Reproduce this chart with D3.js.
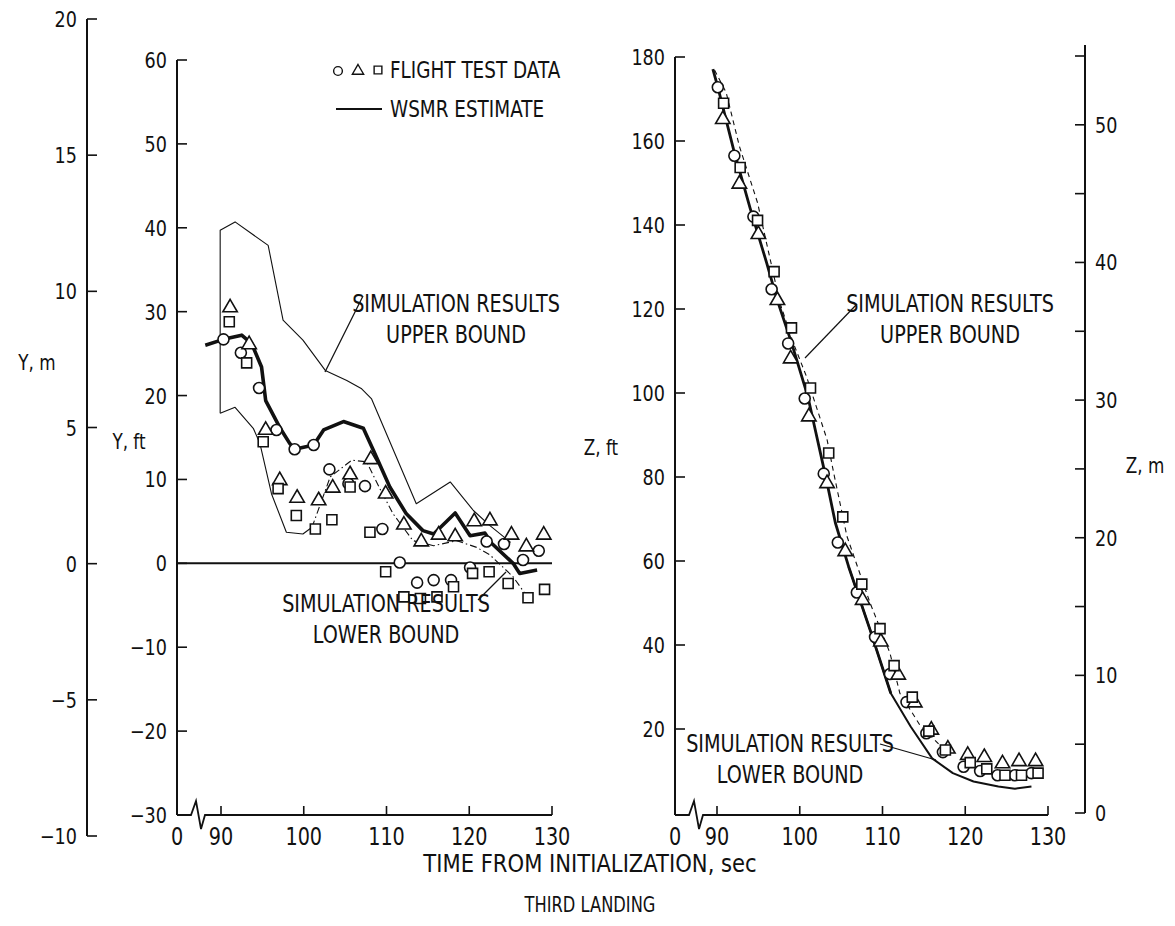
<!DOCTYPE html>
<html>
<head>
<meta charset="utf-8">
<script src="https://cdn.jsdelivr.net/npm/d3@7"></script>
<style>
  body { margin: 0; background: #fff; }
  svg text { font-family: "DejaVu Sans", "Roboto", sans-serif; fill: #111; }
</style>
</head>
<body>
<svg id="chart" width="1175" height="926"></svg>
<script>
// ---- data (time in sec, Y / Z in ft) ----
const wsmrLeft = [[88.1,26.0],[90.3,26.7],[92.5,27.2],[93.7,26.2],[94.9,23.4],[95.4,19.4],[97.1,16.2],[98.3,14.3],[98.9,13.6],[101.2,14.1],[102.4,15.9],[104.8,16.9],[107.2,16.1],[108.4,13.5],[110.4,9.1],[112.4,5.9],[114.4,3.9],[115.7,3.5],[118.3,6.0],[120.1,3.3],[121.9,3.6],[122.7,2.4],[125.3,0],[126.1,-1.2],[128.2,-0.8]];
const upperLeft = [[89.9,17.9],[89.9,39.7],[91.7,40.7],[95.7,37.9],[97.5,29.0],[99.9,26.6],[102.6,23.0],[105.2,21.8],[107.0,20.8],[108.2,19.6],[113.6,7.1],[117.7,9.7],[120.5,6.3],[122.5,4.5],[125.0,2.5]];
const lowerLeftSolid = [[89.9,17.9],[91.7,18.6],[93.9,16.1],[94.7,14.3],[96.1,8.3],[97.9,3.7],[99.9,3.5],[101.0,4.3]];
const lowerLeftDash = [[101.0,4.3],[103.2,10.3],[105.8,12.3],[107.6,12.1],[109.2,8.9],[110.8,5.9],[113.2,2.7],[115.7,2.1],[118.5,2.7],[120.9,1.9],[122.5,1.0],[125.3,-1.6],[127.3,-4.4]];
const circLeft = [[90.3,26.7],[92.4,25.1],[94.6,20.9],[96.7,15.9],[98.9,13.6],[101.2,14.1],[103.1,11.2],[105.4,9.5],[107.4,9.2],[109.5,4.1],[111.6,0.1],[113.7,-2.3],[115.7,-2.0],[117.8,-2.0],[120.1,-0.5],[122.1,2.6],[124.2,2.3],[126.5,0.4],[128.4,1.5]];
const triLeft = [[91.1,30.6],[93.4,26.2],[95.4,16.0],[97.1,10.0],[99.2,7.9],[101.8,7.6],[103.5,9.1],[105.6,10.7],[108.1,12.5],[109.9,8.4],[112.1,4.7],[114.2,2.7],[116.3,3.5],[118.3,3.3],[120.6,5.1],[122.5,5.2],[125.1,3.5],[126.9,2.1],[129.0,3.5]];
const sqLeft = [[91.0,28.8],[93.1,23.9],[95.1,14.5],[96.9,8.9],[99.1,5.7],[101.4,4.1],[103.4,5.2],[105.6,9.1],[108.0,3.7],[109.9,-1.0],[112.1,-4.0],[114.1,-4.2],[116.1,-4.0],[118.1,-2.8],[120.4,-1.2],[122.4,-1.0],[124.7,-2.4],[127.1,-4.1],[129.1,-3.1]];

const wsmrRight = [[89.5,177.1],[90.1,172.8],[92.0,158.0],[94.0,144.0],[96.0,131.0],[97.3,122.0],[99.0,112.0],[101.0,99.0],[103.3,78.6],[104.3,69.1],[105.9,58.7],[108.5,43.6],[111.0,28.5]];
const lowerRight = [[105.9,58.7],[108.5,43.6],[111.0,28.5],[113.4,20.6],[116.0,13.0],[118.5,9.5],[121.0,7.5],[124.0,6.3],[126.0,5.8],[128.0,6.3]];
const upperRight = [[89.7,176.9],[91.1,171.6],[92.7,158.8],[94.9,145.3],[97.6,121.5],[99.2,112.0],[100.8,104.0],[103.3,88.9],[104.1,81.0],[105.7,65.9],[108.5,50.0],[110.9,38.1],[112.1,28.5],[114.5,21.0],[117.0,16.0]];
const circRight = [[90.1,172.8],[92.1,156.5],[94.4,142.0],[96.6,124.7],[98.6,111.8],[100.6,98.7],[102.9,80.8],[104.6,64.4],[106.9,52.5],[109.1,41.9],[110.9,33.1],[112.9,26.4],[115.3,19.0],[117.3,14.5],[119.8,11.0],[121.8,10.0],[123.9,9.0],[126.0,9.0],[128.0,9.5]];
const triRight = [[90.7,165.4],[92.7,150.0],[95.0,138.0],[97.3,122.3],[98.9,108.4],[101.1,94.6],[103.3,78.7],[105.5,62.5],[107.6,50.9],[109.8,41.0],[111.9,33.1],[113.9,26.5],[115.9,20.0],[117.9,15.5],[120.3,14.0],[122.3,13.5],[124.5,12.0],[126.5,12.5],[128.5,12.5]];
const sqRight = [[90.8,169.0],[92.8,153.7],[94.9,141.1],[96.9,128.9],[99.0,115.5],[101.3,101.2],[103.5,85.7],[105.2,70.5],[107.5,54.5],[109.7,43.9],[111.4,35.1],[113.6,27.6],[115.6,19.5],[117.6,15.0],[120.6,12.0],[122.6,10.5],[124.8,9.0],[126.8,9.0],[128.8,9.5]];

const yFtTicks = [-30,-20,-10,0,10,20,30,40,50,60];
const yMTicks = [-10,-5,0,5,10,15,20];
const zFtTicks = [20,40,60,80,100,120,140,160,180];
const zMTicks = [0,5,10,15,20,25,30,35,40,45,50,55];
const zMLabels = [0,10,20,30,40,50];
const timeTicks = [90,100,110,120,130];

const svg = d3.select("#chart");

// scales
const xL = d3.scaleLinear().domain([90,130]).range([221,552]);
const yL = d3.scaleLinear().domain([-30,60]).range([815,60]);
const yLm = d3.scaleLinear().domain([-10,20]).range([836,19]);
const xR = d3.scaleLinear().domain([90,130]).range([717,1048]);
const yR = d3.scaleLinear().domain([0,180]).range([813,57]);
const yRm = d3.scaleLinear().domain([0,55]).range([813,56]);

const ink = "#111";
const SQ = 0.8; // horizontal squeeze, gives the narrow lettering look

// text drawn at (x,y) and squeezed horizontally
function label(parent, s, x, y, size, anchor, sx) {
  return parent.append("text")
    .attr("transform", `translate(${x},${y}) scale(${sx || SQ},1)`)
    .attr("text-anchor", anchor || "middle")
    .style("font-size", size + "px")
    .text(s);
}

// vertical axis helper: line + inward ticks + labels
function vAxis(scale, x, ticks, labels, side, top, bottom) {
  const g = svg.append("g");
  g.append("line").attr("x1", x).attr("x2", x).attr("y1", top).attr("y2", bottom)
    .attr("stroke", ink).attr("stroke-width", 2);
  const dir = side === "left" ? 1 : -1;
  g.selectAll(".tk").data(ticks).join("line")
    .attr("x1", x).attr("x2", x + dir * 10)
    .attr("y1", d => scale(d)).attr("y2", d => scale(d))
    .attr("stroke", ink).attr("stroke-width", 1.6);
  labels.forEach(d => {
    label(g, d < 0 ? "\u2212" + Math.abs(d) : String(d),
      side === "left" ? x - 10 : x + 10, scale(d) + 8, 22, side === "left" ? "end" : "start");
  });
}

// time axis with break
function tAxis(scale, x0, y) {
  const g = svg.append("g");
  const p = d3.path();
  p.moveTo(x0, y); p.lineTo(x0 + 14, y); p.lineTo(x0 + 19, y - 14);
  p.lineTo(x0 + 24, y + 14); p.lineTo(x0 + 28, y); p.lineTo(scale(130), y);
  g.append("path").attr("d", p.toString()).attr("fill", "none").attr("stroke", ink).attr("stroke-width", 1.8);
  g.selectAll("line").data(timeTicks).join("line")
    .attr("x1", d => scale(d)).attr("x2", d => scale(d)).attr("y1", y).attr("y2", y - 9)
    .attr("stroke", ink).attr("stroke-width", 1.6);
  [0].concat(timeTicks).forEach(d => {
    label(g, String(d), d === 0 ? x0 : scale(d), y + 30, 24);
  });
}

vAxis(yLm, 87, yMTicks, yMTicks, "left", 19, 836);
vAxis(yL, 177, yFtTicks, yFtTicks, "left", 60, 815);
tAxis(xL, 177, 815);
vAxis(yR, 675, zFtTicks, zFtTicks, "left", 57, 815);
vAxis(yRm, 1085, zMTicks, zMLabels, "right", 45, 813);
tAxis(xR, 675, 815);

// zero line in left panel
svg.append("line").attr("x1", 177).attr("x2", xL(130)).attr("y1", yL(0)).attr("y2", yL(0))
  .attr("stroke", ink).attr("stroke-width", 2);

function drawLine(data, xs, ys, width, dash) {
  svg.append("path").datum(data)
    .attr("d", d3.line().x(d => xs(d[0])).y(d => ys(d[1])))
    .attr("fill", "none").attr("stroke", ink).attr("stroke-width", width)
    .attr("stroke-dasharray", dash || null).attr("stroke-linejoin", "round");
}

drawLine(upperLeft, xL, yL, 1.1);
drawLine(lowerLeftSolid, xL, yL, 1.1);
drawLine(lowerLeftDash, xL, yL, 1.1, "7,3,1.5,3");
drawLine(wsmrLeft, xL, yL, 3.6);

drawLine(upperRight, xR, yR, 1.1, "5,4");
drawLine(lowerRight, xR, yR, 2);
drawLine(wsmrRight, xR, yR, 2.8);

// markers
function markers(data, xs, ys, type) {
  const sym = d3.symbol().type(type === "c" ? d3.symbolCircle : type === "t" ? d3.symbolTriangle : d3.symbolSquare)
    .size(type === "c" ? 95 : type === "t" ? 90 : 100);
  svg.append("g").selectAll("path").data(data).join("path")
    .attr("transform", d => `translate(${xs(d[0])},${ys(d[1]) + (type === "t" ? 1 : 0)})`)
    .attr("d", sym).attr("fill", "#fff").attr("stroke", ink).attr("stroke-width", 1.6);
}
markers(circLeft, xL, yL, "c");
markers(triLeft, xL, yL, "t");
markers(sqLeft, xL, yL, "s");
markers(circRight, xR, yR, "c");
markers(triRight, xR, yR, "t");
markers(sqRight, xR, yR, "s");

// legend
const leg = svg.append("g");
leg.append("path").attr("transform", "translate(338,71)").attr("d", d3.symbol().type(d3.symbolCircle).size(60))
  .attr("fill", "#fff").attr("stroke", ink).attr("stroke-width", 1.4);
leg.append("path").attr("transform", "translate(358,71)").attr("d", d3.symbol().type(d3.symbolTriangle).size(55))
  .attr("fill", "#fff").attr("stroke", ink).attr("stroke-width", 1.4);
leg.append("path").attr("transform", "translate(378,70)").attr("d", d3.symbol().type(d3.symbolSquare).size(60))
  .attr("fill", "#fff").attr("stroke", ink).attr("stroke-width", 1.4);
label(leg, "FLIGHT TEST DATA", 390, 78, 23, "start");
leg.append("line").attr("x1", 336).attr("x2", 382).attr("y1", 109).attr("y2", 109).attr("stroke", ink).attr("stroke-width", 2);
label(leg, "WSMR ESTIMATE", 390, 117, 23, "start");

// annotations
function note(lines, x, y) {
  lines.forEach((s, i) => label(svg, s, x, y + i * 31, 24));
}
function leader(x1, y1, x2, y2) {
  svg.append("line").attr("x1", x1).attr("y1", y1).attr("x2", x2).attr("y2", y2).attr("stroke", ink).attr("stroke-width", 1.2);
}
note(["SIMULATION RESULTS", "UPPER BOUND"], 456, 312);
leader(363, 296, 325, 372);
note(["SIMULATION RESULTS", "LOWER BOUND"], 386, 612);
leader(478, 600, 506, 572);
note(["SIMULATION RESULTS", "UPPER BOUND"], 950, 312);
leader(857, 304, 805, 358);
note(["SIMULATION RESULTS", "LOWER BOUND"], 790, 752);
leader(880, 744, 936, 760);

// axis titles
label(svg, "Y, m", 37, 370, 21);
label(svg, "Y, ft", 129, 449, 21);
label(svg, "Z, ft", 601, 455, 21);
label(svg, "Z, m", 1145, 473, 21);
label(svg, "TIME FROM INITIALIZATION, sec", 590, 872, 24, "middle", 0.88);
label(svg, "THIRD LANDING", 590, 912, 22, "middle", 0.74);
</script>
</body>
</html>
